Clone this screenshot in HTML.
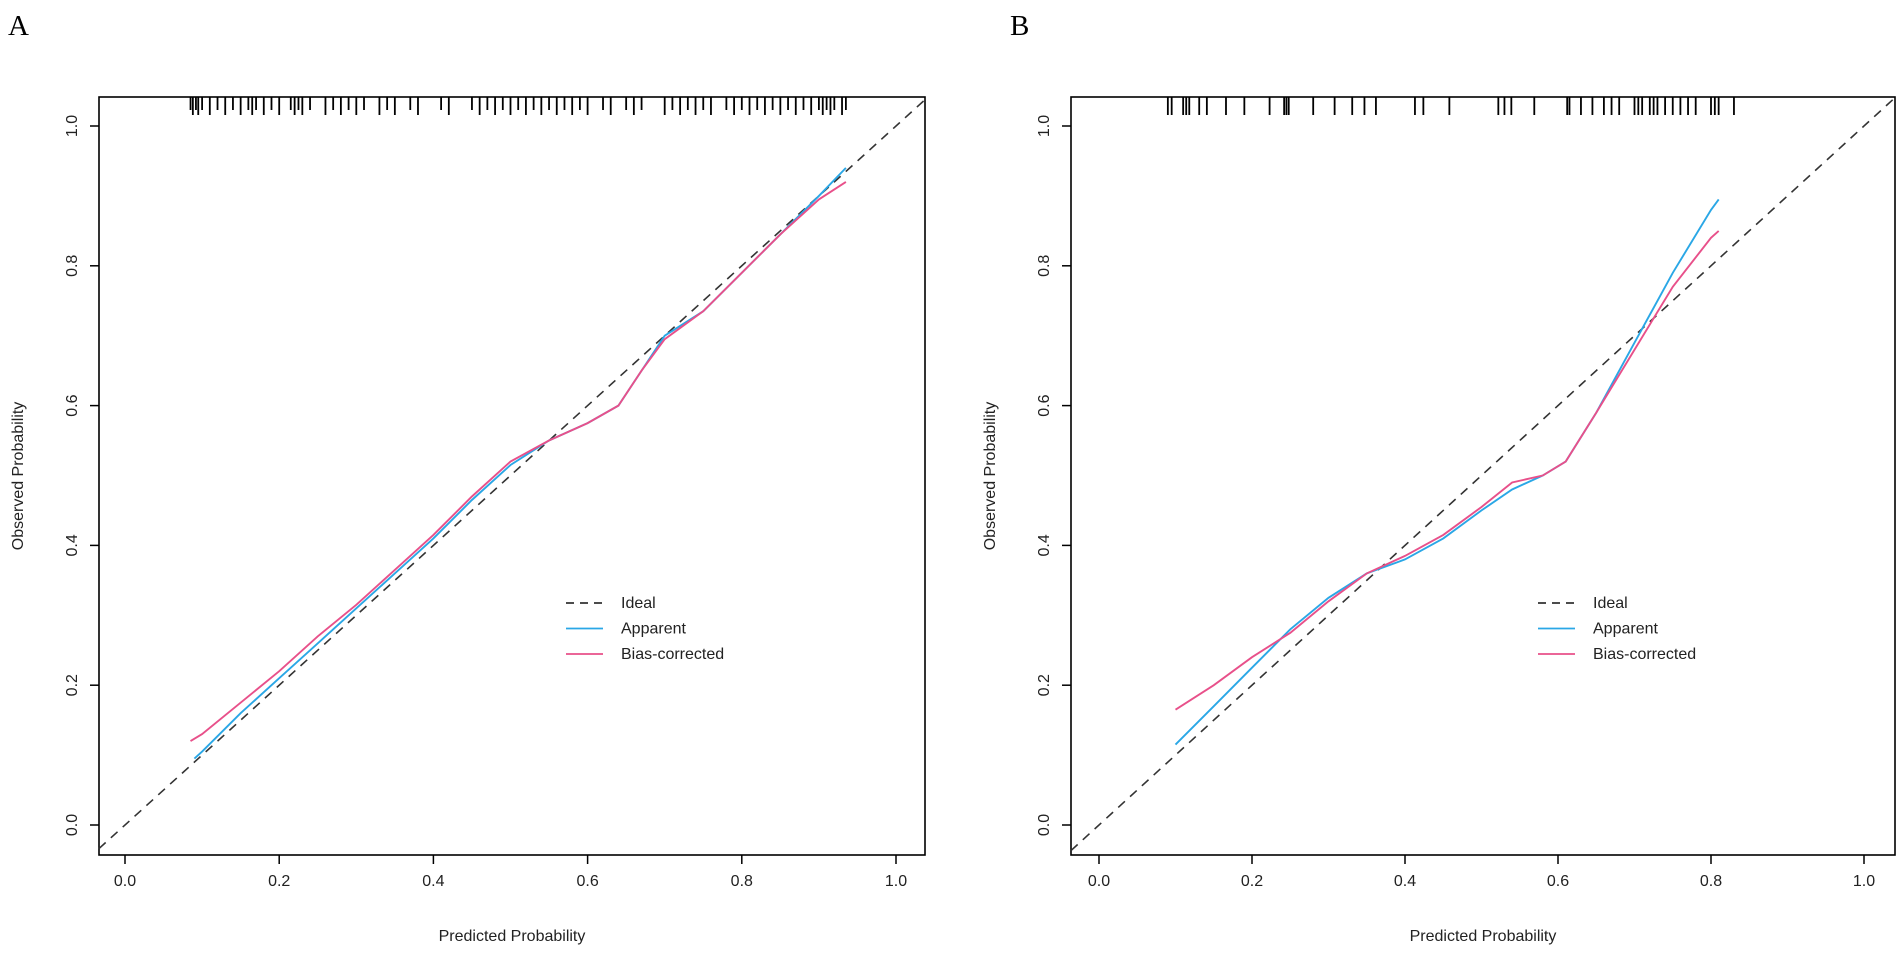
<!DOCTYPE html>
<html><head><meta charset="utf-8"><style>
body{margin:0;background:#fff;}
svg{display:block;font-family:"Liberation Sans",Arial,sans-serif;}
</style></head><body>
<svg id="chart" width="1902" height="953" xmlns="http://www.w3.org/2000/svg"></svg>
<script>
const ticks=[0,0.2,0.4,0.6,0.8,1.0];
const tickLabels=["0.0","0.2","0.4","0.6","0.8","1.0"];
const aX=[0.09,0.1,0.15,0.2,0.25,0.3,0.35,0.4,0.45,0.5,0.55,0.6,0.64,0.67,0.7,0.75,0.8,0.85,0.9,0.935];
const aApparent=[0.095,0.105,0.16,0.21,0.26,0.31,0.36,0.41,0.465,0.515,0.55,0.575,0.60,0.65,0.70,0.735,0.79,0.845,0.90,0.94];
const aBiasX=[0.085,0.1,0.15,0.2,0.25,0.3,0.35,0.4,0.45,0.5,0.55,0.6,0.64,0.67,0.7,0.75,0.8,0.85,0.9,0.935];
const aBias=[0.12,0.13,0.175,0.22,0.27,0.315,0.365,0.415,0.47,0.52,0.55,0.575,0.60,0.65,0.695,0.735,0.79,0.845,0.895,0.92];
const bX=[0.1,0.15,0.2,0.25,0.3,0.35,0.4,0.45,0.5,0.54,0.58,0.61,0.65,0.7,0.75,0.8,0.81];
const bApparent=[0.115,0.17,0.225,0.28,0.325,0.36,0.38,0.41,0.45,0.48,0.50,0.52,0.59,0.69,0.79,0.88,0.895];
const bBias=[0.165,0.2,0.24,0.275,0.32,0.36,0.385,0.415,0.455,0.49,0.50,0.52,0.59,0.68,0.77,0.84,0.85];
const aRug=[0.085,0.088,0.092,0.095,0.1,0.11,0.12,0.13,0.14,0.15,0.16,0.165,0.17,0.18,0.19,0.2,0.215,0.22,0.225,0.23,0.24,0.26,0.27,0.28,0.29,0.3,0.31,0.33,0.34,0.35,0.37,0.38,0.41,0.42,0.45,0.46,0.47,0.48,0.49,0.5,0.51,0.52,0.53,0.54,0.55,0.56,0.57,0.58,0.59,0.6,0.62,0.63,0.65,0.66,0.67,0.7,0.71,0.72,0.73,0.74,0.75,0.76,0.78,0.79,0.8,0.81,0.82,0.83,0.84,0.85,0.86,0.87,0.88,0.89,0.9,0.905,0.91,0.915,0.92,0.93,0.935];
const bRug=[0.09,0.095,0.11,0.114,0.118,0.131,0.141,0.166,0.19,0.223,0.242,0.245,0.248,0.28,0.308,0.331,0.347,0.362,0.413,0.424,0.458,0.522,0.53,0.539,0.569,0.612,0.615,0.63,0.645,0.66,0.67,0.68,0.7,0.705,0.71,0.72,0.725,0.73,0.74,0.75,0.76,0.77,0.78,0.8,0.805,0.81,0.83];
const NS="http://www.w3.org/2000/svg";
const svg=document.getElementById('chart');
function el(tag,attrs,parent){const e=document.createElementNS(NS,tag);for(const k in attrs)e.setAttribute(k,attrs[k]);(parent||svg).appendChild(e);return e;}
function panel(p){
  const g=el('g',{});
  
  
  const sx=v=>p.x0+(p.x1-p.x0)*v;
  const sy=v=>825-(825-126)*v;
  const t=el('text',{x:p.lx,y:35,'font-family':'Liberation Serif,serif','font-size':29},g);t.textContent=p.letter;
  
  
  const box=el('rect',{x:p.bl,y:97,width:p.br-p.bl,height:758,fill:'none',stroke:'#000','stroke-width':1.6},g);
  
  
  ticks.forEach((v,i)=>{
    el('line',{x1:sx(v),x2:sx(v),y1:855,y2:864,stroke:'#000','stroke-width':1.5},g);
    const tx=el('text',{x:sx(v),y:886,'font-size':16,'text-anchor':'middle',fill:'#222'},g);tx.textContent=tickLabels[i];
    
    
    el('line',{x1:p.bl-9,x2:p.bl,y1:sy(v),y2:sy(v),stroke:'#000','stroke-width':1.5},g);
    const ty=el('text',{x:p.bl-22,y:sy(v),'font-size':16,'text-anchor':'middle',fill:'#222',transform:`rotate(-90 ${p.bl-22} ${sy(v)})`},g);ty.textContent=tickLabels[i];
    
    
  });
  const xt=el('text',{x:(p.bl+p.br)/2,y:941,'font-size':16,'text-anchor':'middle',fill:'#222'},g);xt.textContent='Predicted Probability';
  
  
  const yx=p.bl-76;
  const yt=el('text',{x:yx,y:476,'font-size':16,'text-anchor':'middle',fill:'#222',transform:`rotate(-90 ${yx} 476)`},g);yt.textContent='Observed Probability';
  
  
  const ideal=el('line',{x1:p.bl,y1:sy((p.x0-p.bl)/(p.x1-p.x0)*-1),x2:p.br,y2:sy((p.br-p.x0)/(p.x1-p.x0)),stroke:'#333','stroke-width':1.6,'stroke-dasharray':'9,7'},g);
  
  
  p.rug.forEach((v,i)=>{
    const len=p.rugLong?18:(i%2?18:13);
    const r=el('line',{x1:sx(v),x2:sx(v),y1:97,y2:97+len,stroke:'#000','stroke-width':1.8},g);
    
    
  });
  const pathOf=(xs,ys)=>xs.map((x,i)=>(i?'L':'M')+sx(x).toFixed(1)+','+sy(ys[i]).toFixed(1)).join('');
  const ap=el('path',{d:pathOf(p.ax,p.ay),fill:'none',stroke:'#2aa7e6','stroke-width':1.9},g);
  
  
  const bc=el('path',{d:pathOf(p.bx,p.by),fill:'none',stroke:'#e8508a','stroke-width':1.9},g);
  
  
  const lg=el('g',{},g);
  
  
  const items=[['Ideal','#333','8,6'],['Apparent','#2aa7e6',''],['Bias-corrected','#e8508a','']];
  items.forEach((it,i)=>{
    const y=603+i*25.5;
    el('line',{x1:p.legX,x2:p.legX+37,y1:y,y2:y,stroke:it[1],'stroke-width':1.8,'stroke-dasharray':it[2]||'none'},lg);
    const lt=el('text',{x:p.legX+55,y:y+5,'font-size':16,fill:'#222'},lg);lt.textContent=it[0];
    
    
  });
}
panel({letter:'A',lx:8,bl:99,br:925,x0:125,x1:896,legX:566,rug:aRug,rugLong:false,ax:aX,ay:aApparent,bx:aBiasX,by:aBias});
panel({letter:'B',lx:1010,bl:1071,br:1895,x0:1099,x1:1864,legX:1538,rug:bRug,rugLong:true,ax:bX,ay:bApparent,bx:bX,by:bBias});
</script>
</body></html>
